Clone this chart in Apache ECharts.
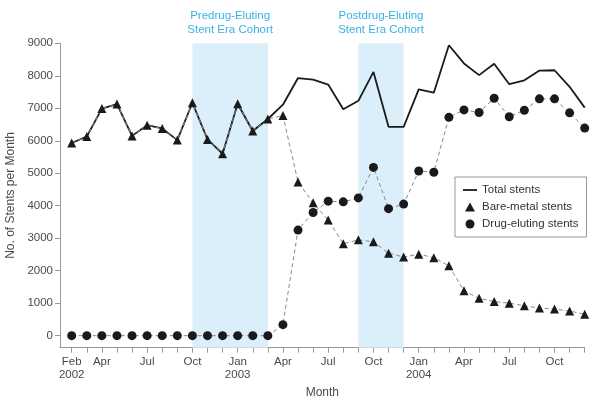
<!DOCTYPE html>
<html>
<head>
<meta charset="utf-8">
<script src="https://cdn.jsdelivr.net/npm/echarts@6/dist/echarts.min.js"></script>
<style>html,body{margin:0;padding:0;background:#fff}#c{width:600px;height:407px}</style>
</head>
<body>
<div id="c"></div>
<script>
// Months Feb 2002 .. Dec 2004 (index 0..34)
const monthIndex = Array.from({length: 35}, (_, i) => i);
const tickPositions = [0, 2, 5, 8, 11, 14, 17, 20, 23, 26, 29, 32];
const tickLabels = ['Feb\n2002', 'Apr', 'Jul', 'Oct', 'Jan\n2003', 'Apr', 'Jul', 'Oct', 'Jan\n2004', 'Apr', 'Jul', 'Oct'];
const yTicks = [0, 1000, 2000, 3000, 4000, 5000, 6000, 7000, 8000, 9000];

const totalStents = [5930, 6130, 6990, 7130, 6150, 6480, 6380, 6020, 7170, 6040, 5600, 7140, 6300, 6670,
  7110, 7930, 7880, 7730, 6970, 7230, 8120, 6430, 6430, 7580, 7480, 8940, 8380, 8020, 8370, 7740, 7860, 8160, 8170, 7660, 7020];
const bareMetal = [5930, 6130, 6990, 7130, 6150, 6480, 6380, 6020, 7170, 6040, 5600, 7140, 6300, 6670,
  6780, 4730, 4090, 3560, 2830, 2950, 2890, 2540, 2420, 2510, 2400, 2150, 1380, 1150, 1050, 1000, 920, 850, 820, 760, 660];
const drugEluting = [0, 0, 0, 0, 0, 0, 0, 0, 0, 0, 0, 0, 0, 0,
  340, 3250, 3790, 4140, 4120, 4240, 5180, 3910, 4050, 5070, 5030, 6720, 6950, 6870, 7310, 6740, 6940, 7290, 7290, 6860, 6390];

const cohorts = [
  {name: 'Predrug-Eluting\nStent Era Cohort', from: 8, to: 13},
  {name: 'Postdrug-Eluting\nStent Era Cohort', from: 19, to: 22}
];

const pair = arr => arr.map((v, i) => [monthIndex[i], v]);
const FONT = '"Liberation Sans", Arial, sans-serif';
const TXT = '#4a4a4a';

const chart = echarts.init(document.getElementById('c'), null, {renderer: 'canvas'});
chart.setOption({
  animation: false,
  backgroundColor: '#fff',
  textStyle: {fontFamily: FONT},
  grid: {left: 60, right: 15.3, top: 43.3, bottom: 59.3, containLabel: false, outerBoundsMode: 'none'},
  xAxis: {
    type: 'value', min: -0.775, max: 34,
    name: 'Month', nameLocation: 'middle', nameGap: 36,
    nameTextStyle: {fontSize: 12, color: TXT, fontFamily: FONT},
    axisLine: {show: true, onZero: false, lineStyle: {color: '#999', width: 1}},
    axisTick: {show: true, length: 5, customValues: monthIndex, lineStyle: {color: '#999'}},
    splitLine: {show: false},
    axisLabel: {
      customValues: tickPositions, margin: 7, fontSize: 11.5, lineHeight: 13.5, color: TXT, fontFamily: FONT,
      formatter: v => { const k = tickPositions.indexOf(Math.round(v)); return k >= 0 ? tickLabels[k] : ''; }
    }
  },
  yAxis: {
    type: 'value', min: -370, max: 9000,
    name: 'No. of Stents per Month', nameLocation: 'middle', nameGap: 39,
    nameTextStyle: {fontSize: 12, color: TXT, fontFamily: FONT},
    axisLine: {show: true, onZero: false, lineStyle: {color: '#999', width: 1}},
    axisTick: {show: true, length: 5, customValues: yTicks, lineStyle: {color: '#999'}},
    splitLine: {show: false},
    axisLabel: {customValues: yTicks, margin: 7, fontSize: 11.5, color: TXT, fontFamily: FONT,
      formatter: v => String(Math.round(v))}
  },
  legend: {
    orient: 'vertical', left: 455, top: 177,
    padding: [7, 8, 7, 8], itemGap: 5, itemWidth: 14, itemHeight: 9,
    borderColor: '#999', borderWidth: 1, backgroundColor: '#fff',
    textStyle: {fontSize: 11.5, color: '#333', fontFamily: FONT},
    data: [
      {name: 'Total stents', icon: 'path://M0,0 H14 V1.8 H0 Z'},
      {name: 'Bare-metal stents', icon: 'path://M4.5,0 L9,8 L0,8 Z'},
      {name: 'Drug-eluting stents', icon: 'circle'}
    ]
  },
  series: [
    {
      name: 'Total stents', type: 'line', data: pair(totalStents),
      symbol: 'none', z: 3,
      lineStyle: {color: '#1a1a1a', width: 1.8},
      itemStyle: {color: '#1a1a1a'},
      markArea: {
        silent: true,
        itemStyle: {color: '#dbeffa'},
        label: {show: true, position: 'top', distance: 6, color: '#38b2e6', fontSize: 11.5, lineHeight: 14.5, fontFamily: FONT},
        data: cohorts.map(c => [{name: c.name, xAxis: c.from}, {xAxis: c.to}])
      }
    },
    {
      name: 'Bare-metal stents', type: 'line', data: pair(bareMetal),
      symbol: 'triangle', symbolSize: 9, z: 4,
      lineStyle: {color: '#888', width: 1, type: [4, 3]},
      itemStyle: {color: '#1a1a1a'}
    },
    {
      name: 'Drug-eluting stents', type: 'line', data: pair(drugEluting),
      symbol: 'circle', symbolSize: 9, z: 4,
      lineStyle: {color: '#888', width: 1, type: [4, 3]},
      itemStyle: {color: '#1a1a1a'}
    }
  ]
});
</script>
</body>
</html>
